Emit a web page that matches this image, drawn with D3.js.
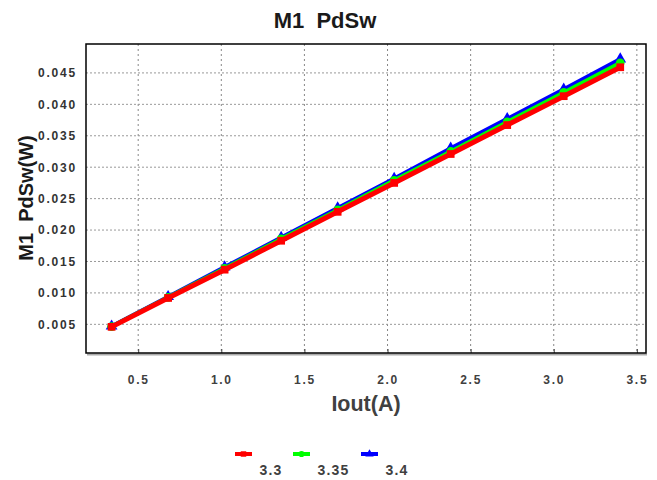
<!DOCTYPE html>
<html>
<head>
<script src="https://d3js.org/d3.v7.min.js"></script>
<style>
  body { margin: 0; background: #fff; }
  text { font-family: "Liberation Sans", Arial, sans-serif; font-weight: bold; white-space: pre; }
</style>
</head>
<body>
<svg width="657" height="480"></svg>
<script>
"use strict";

var iout = [0.34, 0.68, 1.02, 1.36, 1.70, 2.04, 2.38, 2.72, 3.06, 3.40];
var v33  = [0.0046, 0.0092, 0.0137, 0.0183, 0.0229, 0.0275, 0.0321, 0.0367, 0.0413, 0.0459];
var v335 = [0.00465, 0.0093, 0.0139, 0.0186, 0.0232, 0.0279, 0.0325, 0.0372, 0.0419, 0.0466];
var v34  = [0.0047, 0.0094, 0.0141, 0.0188, 0.0235, 0.0282, 0.0330, 0.0377, 0.0424, 0.0472];
var seriesNames = ["3.3", "3.35", "3.4"];
var xTicks = [0.5, 1.0, 1.5, 2.0, 2.5, 3.0, 3.5];
var yTicks = [0.005, 0.010, 0.015, 0.020, 0.025, 0.030, 0.035, 0.040, 0.045];

var series = [
  {name: seriesNames[0], values: v33, color: "#ff0000", shape: d3.symbolSquare, width: 5},
  {name: seriesNames[1], values: v335, color: "#00ff00", shape: d3.symbolCircle, width: 4},
  {name: seriesNames[2], values: v34, color: "#0000ff", shape: d3.symbolTriangle, width: 4}
];

var svg = d3.select("svg");
var pLeft = 86, pRight = 646, pTop = 44, pBottom = 353;

var x = d3.scaleLinear().domain([0.186, 3.555]).range([pLeft, pRight]);
var y = d3.scaleLinear().domain([0.00044, 0.0496]).range([pBottom, pTop]);

// grid
svg.append("g").selectAll("line").data(xTicks).enter().append("line")
  .attr("x1", d => x(d)).attr("x2", d => x(d))
  .attr("y1", pTop).attr("y2", pBottom)
  .attr("stroke", "#888").attr("stroke-dasharray", "2,3");
svg.append("g").selectAll("line").data(yTicks).enter().append("line")
  .attr("x1", pLeft).attr("x2", pRight)
  .attr("y1", d => y(d)).attr("y2", d => y(d))
  .attr("stroke", "#999").attr("stroke-dasharray", "2,2");

// axes labels
svg.append("g")
  .attr("transform", "translate(0," + pBottom + ")")
  .call(d3.axisBottom(x).tickValues(xTicks).tickFormat(d3.format(".1f")).tickSize(-4).tickPadding(22))
  .call(g => g.select(".domain").remove())
  .call(g => g.selectAll("line").attr("stroke", "#444"))
  .call(g => g.selectAll("text").attr("fill", "#404040").attr("font-size", 12)
    .attr("letter-spacing", 1.7).attr("font-family", null));

svg.append("g")
  .attr("transform", "translate(" + pLeft + ",0)")
  .call(d3.axisLeft(y).tickValues(yTicks).tickFormat(d3.format(".3f")).tickSize(0).tickPadding(9))
  .call(g => g.select(".domain").remove())
  .call(g => g.selectAll("text").attr("fill", "#333").attr("font-size", 12)
    .attr("letter-spacing", 1.8).attr("font-family", null));

// frame
svg.append("line").attr("x1", pLeft + 1).attr("x2", pRight + 1).attr("y1", pBottom + 1.5).attr("y2", pBottom + 1.5)
  .attr("stroke", "#aaa").attr("stroke-width", 2);
svg.append("rect").attr("x", pLeft).attr("y", pTop).attr("width", pRight - pLeft).attr("height", pBottom - pTop)
  .attr("fill", "none").attr("stroke", "#000").attr("stroke-width", 1.5);

// lines
var line = d3.line().x((d, i) => x(iout[i])).y(d => y(d));
var drawOrder = series.slice().reverse();
drawOrder.forEach(s => {
  svg.append("path").datum(s.values)
    .attr("d", line).attr("fill", "none")
    .attr("stroke", s.color).attr("stroke-width", s.width);
  svg.append("g").selectAll("path").data(s.values).enter().append("path")
    .attr("transform", (d, i) => "translate(" + x(iout[i]) + "," + y(d) + ")")
    .attr("d", d3.symbol().type(s.shape).size(60))
    .attr("fill", s.color);
});

// titles
svg.append("text").attr("x", 325).attr("y", 28).attr("text-anchor", "middle")
  .attr("font-size", 22).attr("fill", "#1a1a1a").text("M1  PdSw");
svg.append("text").attr("transform", "translate(33,198) rotate(-90)").attr("text-anchor", "middle")
  .attr("font-size", 20).attr("fill", "#1a1a1a").text("M1  PdSw(W)");
svg.append("text").attr("x", 366).attr("y", 411).attr("text-anchor", "middle")
  .attr("font-size", 21.5).attr("fill", "#404040").text("Iout(A)");

// legend
var legendX = [243.5, 301.5, 369.5];
var leg = svg.append("g").selectAll("g").data(series).enter().append("g")
  .attr("transform", (d, i) => "translate(" + legendX[i] + ",454)");
leg.append("line").attr("x1", -8.5).attr("x2", 8.5).attr("stroke", d => d.color).attr("stroke-width", 4);
leg.append("path").attr("d", d => d3.symbol().type(d.shape).size(30)()).attr("fill", d => d.color);
leg.append("text").attr("x", 16).attr("y", 21)
  .attr("font-size", 14).attr("letter-spacing", 1.2).attr("fill", "#404040").text(d => d.name);
</script>
</body>
</html>
